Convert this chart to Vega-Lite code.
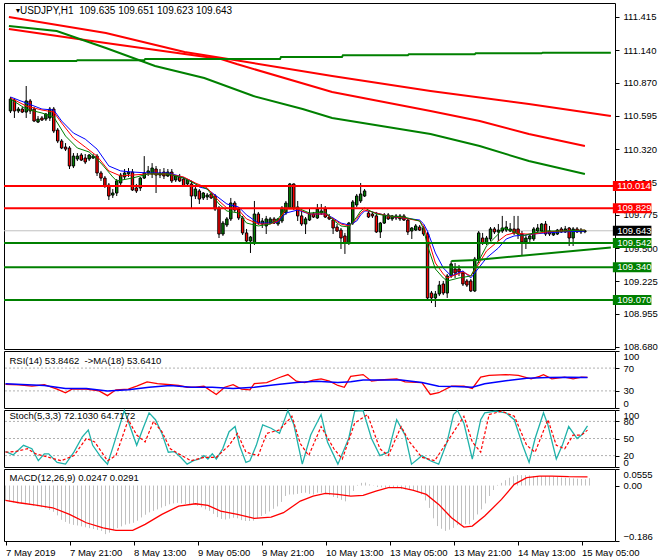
{
"$schema": "https://vega.github.io/schema/vega-lite/v6.json",
"padding": {"left": 2, "top": 2, "right": 0, "bottom": 0},
"background": "white",
"spacing": 2,
"bounds": "flush",
"config": {
 "view": {"stroke": "#000000", "strokeWidth": 1},
 "axis": {"labelFont": "Liberation Sans", "labelFontSize": 9.5, "labelColor": "#000000", "tickColor": "#000000", "domain": false, "grid": false, "title": null, "labelOverlap": false, "tickSize": 4, "labelPadding": 4},
 "text": {"font": "Liberation Sans", "fontSize": 9.5, "color": "#000000"}
},
"datasets": {
 "candles": [
{"i":0,"o":110.636,"h":110.752,"l":110.619,"c":110.735},
{"i":1,"o":110.727,"h":110.744,"l":110.578,"c":110.636},
{"i":2,"o":110.636,"h":110.669,"l":110.619,"c":110.652},
{"i":3,"o":110.652,"h":110.669,"l":110.619,"c":110.627},
{"i":4,"o":110.627,"h":110.843,"l":110.578,"c":110.719},
{"i":5,"o":110.719,"h":110.735,"l":110.611,"c":110.636},
{"i":6,"o":110.652,"h":110.669,"l":110.544,"c":110.553},
{"i":7,"o":110.544,"h":110.594,"l":110.536,"c":110.569},
{"i":8,"o":110.578,"h":110.594,"l":110.553,"c":110.561},
{"i":9,"o":110.569,"h":110.619,"l":110.553,"c":110.611},
{"i":10,"o":110.578,"h":110.669,"l":110.553,"c":110.652},
{"i":11,"o":110.652,"h":110.669,"l":110.453,"c":110.470},
{"i":12,"o":110.478,"h":110.495,"l":110.370,"c":110.387},
{"i":13,"o":110.387,"h":110.403,"l":110.320,"c":110.329},
{"i":14,"o":110.337,"h":110.370,"l":110.304,"c":110.320},
{"i":15,"o":110.329,"h":110.345,"l":110.155,"c":110.180},
{"i":16,"o":110.180,"h":110.287,"l":110.163,"c":110.262},
{"i":17,"o":110.238,"h":110.287,"l":110.221,"c":110.262},
{"i":18,"o":110.271,"h":110.287,"l":110.221,"c":110.229},
{"i":19,"o":110.246,"h":110.279,"l":110.196,"c":110.213},
{"i":20,"o":110.238,"h":110.279,"l":110.221,"c":110.271},
{"i":21,"o":110.246,"h":110.279,"l":110.238,"c":110.262},
{"i":22,"o":110.262,"h":110.279,"l":110.097,"c":110.122},
{"i":23,"o":110.122,"h":110.139,"l":110.056,"c":110.080},
{"i":24,"o":110.080,"h":110.097,"l":109.998,"c":110.014},
{"i":25,"o":110.022,"h":110.039,"l":109.898,"c":109.931},
{"i":26,"o":109.939,"h":109.989,"l":109.915,"c":109.956},
{"i":27,"o":109.956,"h":110.072,"l":109.931,"c":110.056},
{"i":28,"o":110.039,"h":110.122,"l":110.022,"c":110.105},
{"i":29,"o":110.089,"h":110.155,"l":110.072,"c":110.122},
{"i":30,"o":110.114,"h":110.163,"l":110.089,"c":110.130},
{"i":31,"o":110.130,"h":110.155,"l":109.973,"c":109.981},
{"i":32,"o":109.998,"h":110.031,"l":109.956,"c":109.973},
{"i":33,"o":109.998,"h":110.089,"l":109.973,"c":110.080},
{"i":34,"o":110.080,"h":110.262,"l":110.072,"c":110.122},
{"i":35,"o":110.122,"h":110.180,"l":110.097,"c":110.139},
{"i":36,"o":110.114,"h":110.204,"l":110.080,"c":110.163},
{"i":37,"o":110.155,"h":110.180,"l":109.956,"c":110.105},
{"i":38,"o":110.105,"h":110.155,"l":110.080,"c":110.122},
{"i":39,"o":110.130,"h":110.163,"l":110.072,"c":110.097},
{"i":40,"o":110.097,"h":110.155,"l":110.089,"c":110.130},
{"i":41,"o":110.130,"h":110.155,"l":110.039,"c":110.056},
{"i":42,"o":110.064,"h":110.105,"l":110.047,"c":110.097},
{"i":43,"o":110.089,"h":110.114,"l":110.047,"c":110.056},
{"i":44,"o":110.072,"h":110.089,"l":110.006,"c":110.014},
{"i":45,"o":110.031,"h":110.072,"l":110.014,"c":110.064},
{"i":46,"o":110.031,"h":110.056,"l":109.823,"c":109.931},
{"i":47,"o":109.931,"h":110.006,"l":109.906,"c":109.989},
{"i":48,"o":109.973,"h":109.989,"l":109.865,"c":109.906},
{"i":49,"o":109.915,"h":109.964,"l":109.898,"c":109.956},
{"i":50,"o":109.923,"h":109.956,"l":109.898,"c":109.939},
{"i":51,"o":109.948,"h":109.964,"l":109.906,"c":109.915},
{"i":52,"o":109.931,"h":109.948,"l":109.807,"c":109.823},
{"i":53,"o":109.832,"h":109.848,"l":109.583,"c":109.616},
{"i":54,"o":109.616,"h":109.724,"l":109.600,"c":109.707},
{"i":55,"o":109.691,"h":109.757,"l":109.674,"c":109.741},
{"i":56,"o":109.741,"h":109.915,"l":109.724,"c":109.873},
{"i":57,"o":109.873,"h":109.890,"l":109.799,"c":109.815},
{"i":58,"o":109.823,"h":109.840,"l":109.732,"c":109.749},
{"i":59,"o":109.749,"h":109.766,"l":109.608,"c":109.625},
{"i":60,"o":109.625,"h":109.658,"l":109.542,"c":109.558},
{"i":61,"o":109.558,"h":109.600,"l":109.459,"c":109.591},
{"i":62,"o":109.542,"h":109.890,"l":109.525,"c":109.782},
{"i":63,"o":109.782,"h":109.799,"l":109.691,"c":109.707},
{"i":64,"o":109.699,"h":109.749,"l":109.666,"c":109.724},
{"i":65,"o":109.683,"h":109.766,"l":109.616,"c":109.741},
{"i":66,"o":109.707,"h":109.757,"l":109.699,"c":109.741},
{"i":67,"o":109.741,"h":109.757,"l":109.699,"c":109.707},
{"i":68,"o":109.699,"h":109.749,"l":109.683,"c":109.741},
{"i":69,"o":109.724,"h":109.848,"l":109.707,"c":109.832},
{"i":70,"o":109.790,"h":109.890,"l":109.774,"c":109.873},
{"i":71,"o":109.832,"h":110.039,"l":109.823,"c":110.031},
{"i":72,"o":110.031,"h":110.035,"l":109.815,"c":109.832},
{"i":73,"o":109.840,"h":109.890,"l":109.724,"c":109.766},
{"i":74,"o":109.766,"h":109.807,"l":109.683,"c":109.699},
{"i":75,"o":109.699,"h":109.757,"l":109.616,"c":109.741},
{"i":76,"o":109.732,"h":109.823,"l":109.724,"c":109.782},
{"i":77,"o":109.782,"h":109.799,"l":109.749,"c":109.757},
{"i":78,"o":109.749,"h":109.865,"l":109.741,"c":109.823},
{"i":79,"o":109.790,"h":109.865,"l":109.774,"c":109.807},
{"i":80,"o":109.823,"h":109.848,"l":109.749,"c":109.757},
{"i":81,"o":109.757,"h":109.782,"l":109.732,"c":109.741},
{"i":82,"o":109.732,"h":109.749,"l":109.616,"c":109.666},
{"i":83,"o":109.674,"h":109.699,"l":109.633,"c":109.641},
{"i":84,"o":109.649,"h":109.666,"l":109.492,"c":109.583},
{"i":85,"o":109.600,"h":109.625,"l":109.451,"c":109.542},
{"i":86,"o":109.542,"h":109.716,"l":109.525,"c":109.707},
{"i":87,"o":109.707,"h":109.898,"l":109.691,"c":109.882},
{"i":88,"o":109.857,"h":109.948,"l":109.840,"c":109.931},
{"i":89,"o":109.890,"h":110.039,"l":109.873,"c":109.948},
{"i":90,"o":109.931,"h":109.989,"l":109.923,"c":109.973},
{"i":91,"o":109.790,"h":109.807,"l":109.749,"c":109.757},
{"i":92,"o":109.782,"h":109.799,"l":109.749,"c":109.766},
{"i":93,"o":109.766,"h":109.799,"l":109.625,"c":109.633},
{"i":94,"o":109.633,"h":109.716,"l":109.583,"c":109.707},
{"i":95,"o":109.707,"h":109.790,"l":109.699,"c":109.774},
{"i":96,"o":109.774,"h":109.790,"l":109.732,"c":109.741},
{"i":97,"o":109.741,"h":109.774,"l":109.724,"c":109.766},
{"i":98,"o":109.766,"h":109.782,"l":109.732,"c":109.749},
{"i":99,"o":109.741,"h":109.782,"l":109.724,"c":109.766},
{"i":100,"o":109.766,"h":109.782,"l":109.724,"c":109.732},
{"i":101,"o":109.732,"h":109.749,"l":109.608,"c":109.633},
{"i":102,"o":109.641,"h":109.674,"l":109.575,"c":109.666},
{"i":103,"o":109.649,"h":109.699,"l":109.641,"c":109.683},
{"i":104,"o":109.674,"h":109.691,"l":109.641,"c":109.649},
{"i":105,"o":109.666,"h":109.683,"l":109.600,"c":109.616},
{"i":106,"o":109.616,"h":109.633,"l":109.069,"c":109.086},
{"i":107,"o":109.127,"h":109.144,"l":109.044,"c":109.086},
{"i":108,"o":109.086,"h":109.144,"l":109.011,"c":109.119},
{"i":109,"o":109.119,"h":109.227,"l":109.102,"c":109.193},
{"i":110,"o":109.202,"h":109.227,"l":109.110,"c":109.127},
{"i":111,"o":109.127,"h":109.285,"l":109.086,"c":109.268},
{"i":112,"o":109.268,"h":109.393,"l":109.252,"c":109.368},
{"i":113,"o":109.326,"h":109.376,"l":109.252,"c":109.293},
{"i":114,"o":109.326,"h":109.359,"l":109.268,"c":109.301},
{"i":115,"o":109.293,"h":109.310,"l":109.185,"c":109.202},
{"i":116,"o":109.227,"h":109.243,"l":109.177,"c":109.193},
{"i":117,"o":109.227,"h":109.243,"l":109.135,"c":109.144},
{"i":118,"o":109.144,"h":109.426,"l":109.135,"c":109.409},
{"i":119,"o":109.409,"h":109.641,"l":109.376,"c":109.625},
{"i":120,"o":109.583,"h":109.625,"l":109.525,"c":109.542},
{"i":121,"o":109.542,"h":109.600,"l":109.525,"c":109.583},
{"i":122,"o":109.575,"h":109.674,"l":109.558,"c":109.658},
{"i":123,"o":109.658,"h":109.674,"l":109.616,"c":109.633},
{"i":124,"o":109.633,"h":109.699,"l":109.558,"c":109.649},
{"i":125,"o":109.641,"h":109.766,"l":109.625,"c":109.666},
{"i":126,"o":109.649,"h":109.724,"l":109.633,"c":109.674},
{"i":127,"o":109.641,"h":109.707,"l":109.633,"c":109.658},
{"i":128,"o":109.658,"h":109.766,"l":109.608,"c":109.625},
{"i":129,"o":109.658,"h":109.766,"l":109.575,"c":109.616},
{"i":130,"o":109.616,"h":109.641,"l":109.434,"c":109.550},
{"i":131,"o":109.550,"h":109.608,"l":109.492,"c":109.583},
{"i":132,"o":109.575,"h":109.616,"l":109.550,"c":109.600},
{"i":133,"o":109.575,"h":109.674,"l":109.558,"c":109.658},
{"i":134,"o":109.641,"h":109.699,"l":109.625,"c":109.666},
{"i":135,"o":109.641,"h":109.707,"l":109.633,"c":109.699},
{"i":136,"o":109.699,"h":109.724,"l":109.600,"c":109.616},
{"i":137,"o":109.641,"h":109.683,"l":109.600,"c":109.616},
{"i":138,"o":109.608,"h":109.641,"l":109.600,"c":109.625},
{"i":139,"o":109.616,"h":109.658,"l":109.608,"c":109.649},
{"i":140,"o":109.658,"h":109.674,"l":109.625,"c":109.633},
{"i":141,"o":109.633,"h":109.683,"l":109.625,"c":109.658},
{"i":142,"o":109.666,"h":109.674,"l":109.517,"c":109.583},
{"i":143,"o":109.583,"h":109.674,"l":109.517,"c":109.658},
{"i":144,"o":109.658,"h":109.674,"l":109.625,"c":109.633},
{"i":145,"o":109.633,"h":109.666,"l":109.616,"c":109.649},
{"i":146,"o":109.635,"h":109.651,"l":109.623,"c":109.643}
 ],
 "shortma": [
{"s":"b","i":0,"p":110.752},{"s":"b","i":4,"p":110.702},{"s":"b","i":8,"p":110.652},{"s":"b","i":11,"p":110.644},{"s":"b","i":13,"p":110.553},{"s":"b","i":16,"p":110.453},{"s":"b","i":19,"p":110.403},{"s":"b","i":22,"p":110.320},{"s":"b","i":25,"p":110.180},{"s":"b","i":28,"p":110.139},{"s":"b","i":31,"p":110.130},{"s":"b","i":35,"p":110.122},{"s":"b","i":40,"p":110.122},{"s":"b","i":43,"p":110.097},{"s":"b","i":46,"p":110.056},{"s":"b","i":48,"p":110.006},{"s":"b","i":50,"p":109.989},{"s":"b","i":53,"p":109.915},{"s":"b","i":55,"p":109.865},{"s":"b","i":58,"p":109.840},{"s":"b","i":60,"p":109.774},{"s":"b","i":63,"p":109.707},{"s":"b","i":66,"p":109.707},{"s":"b","i":68,"p":109.716},{"s":"b","i":70,"p":109.790},{"s":"b","i":73,"p":109.815},{"s":"b","i":76,"p":109.782},{"s":"b","i":80,"p":109.782},{"s":"b","i":82,"p":109.749},{"s":"b","i":84,"p":109.707},{"s":"b","i":86,"p":109.691},{"s":"b","i":88,"p":109.724},{"s":"b","i":89,"p":109.774},{"s":"b","i":90,"p":109.807},{"s":"b","i":91,"p":109.807},{"s":"b","i":93,"p":109.790},{"s":"b","i":96,"p":109.766},{"s":"b","i":100,"p":109.749},{"s":"b","i":104,"p":109.732},{"s":"b","i":105,"p":109.700},{"s":"b","i":106,"p":109.640},{"s":"b","i":107,"p":109.550},{"s":"b","i":108,"p":109.459},{"s":"b","i":110,"p":109.335},{"s":"b","i":112,"p":109.268},{"s":"b","i":115,"p":109.310},{"s":"b","i":117,"p":109.252},{"s":"b","i":119,"p":109.335},{"s":"b","i":121,"p":109.418},{"s":"b","i":124,"p":109.500},{"s":"b","i":126,"p":109.575},{"s":"b","i":128,"p":109.600},{"s":"b","i":131,"p":109.608},{"s":"b","i":133,"p":109.616},{"s":"b","i":136,"p":109.625},{"s":"b","i":140,"p":109.633},{"s":"b","i":146,"p":109.641},
{"s":"r","i":0,"p":110.744},{"s":"r","i":4,"p":110.677},{"s":"r","i":8,"p":110.644},{"s":"r","i":11,"p":110.627},{"s":"r","i":13,"p":110.536},{"s":"r","i":16,"p":110.412},{"s":"r","i":19,"p":110.337},{"s":"r","i":22,"p":110.262},{"s":"r","i":25,"p":110.139},{"s":"r","i":28,"p":110.097},{"s":"r","i":31,"p":110.105},{"s":"r","i":35,"p":110.114},{"s":"r","i":40,"p":110.114},{"s":"r","i":44,"p":110.089},{"s":"r","i":47,"p":110.039},{"s":"r","i":50,"p":109.998},{"s":"r","i":53,"p":109.890},{"s":"r","i":55,"p":109.832},{"s":"r","i":58,"p":109.815},{"s":"r","i":60,"p":109.741},{"s":"r","i":63,"p":109.699},{"s":"r","i":66,"p":109.699},{"s":"r","i":68,"p":109.724},{"s":"r","i":70,"p":109.823},{"s":"r","i":73,"p":109.823},{"s":"r","i":76,"p":109.782},{"s":"r","i":80,"p":109.782},{"s":"r","i":82,"p":109.741},{"s":"r","i":84,"p":109.699},{"s":"r","i":86,"p":109.683},{"s":"r","i":88,"p":109.741},{"s":"r","i":89,"p":109.790},{"s":"r","i":90,"p":109.815},{"s":"r","i":91,"p":109.807},{"s":"r","i":93,"p":109.790},{"s":"r","i":96,"p":109.766},{"s":"r","i":100,"p":109.749},{"s":"r","i":104,"p":109.724},{"s":"r","i":105,"p":109.680},{"s":"r","i":106,"p":109.590},{"s":"r","i":108,"p":109.376},{"s":"r","i":110,"p":109.285},{"s":"r","i":111,"p":109.252},{"s":"r","i":115,"p":109.301},{"s":"r","i":117,"p":109.268},{"s":"r","i":119,"p":109.368},{"s":"r","i":121,"p":109.476},{"s":"r","i":124,"p":109.558},{"s":"r","i":126,"p":109.608},{"s":"r","i":128,"p":109.625},{"s":"r","i":131,"p":109.616},{"s":"r","i":133,"p":109.616},{"s":"r","i":136,"p":109.633},{"s":"r","i":140,"p":109.641},{"s":"r","i":146,"p":109.649},
{"s":"g","i":0,"p":110.735},{"s":"g","i":4,"p":110.652},{"s":"g","i":8,"p":110.619},{"s":"g","i":11,"p":110.586},{"s":"g","i":14,"p":110.428},{"s":"g","i":17,"p":110.329},{"s":"g","i":20,"p":110.296},{"s":"g","i":23,"p":110.204},{"s":"g","i":26,"p":110.089},{"s":"g","i":27,"p":110.056},{"s":"g","i":31,"p":110.080},{"s":"g","i":35,"p":110.114},{"s":"g","i":40,"p":110.114},{"s":"g","i":44,"p":110.080},{"s":"g","i":47,"p":110.031},{"s":"g","i":50,"p":109.989},{"s":"g","i":53,"p":109.865},{"s":"g","i":55,"p":109.807},{"s":"g","i":58,"p":109.790},{"s":"g","i":60,"p":109.707},{"s":"g","i":63,"p":109.683},{"s":"g","i":66,"p":109.699},{"s":"g","i":68,"p":109.741},{"s":"g","i":70,"p":109.832},{"s":"g","i":73,"p":109.832},{"s":"g","i":76,"p":109.790},{"s":"g","i":80,"p":109.799},{"s":"g","i":82,"p":109.732},{"s":"g","i":84,"p":109.683},{"s":"g","i":86,"p":109.674},{"s":"g","i":88,"p":109.757},{"s":"g","i":89,"p":109.807},{"s":"g","i":90,"p":109.832},{"s":"g","i":91,"p":109.815},{"s":"g","i":93,"p":109.782},{"s":"g","i":96,"p":109.766},{"s":"g","i":100,"p":109.757},{"s":"g","i":104,"p":109.724},{"s":"g","i":105,"p":109.658},{"s":"g","i":106,"p":109.517},{"s":"g","i":108,"p":109.326},{"s":"g","i":110,"p":109.252},{"s":"g","i":111,"p":109.227},{"s":"g","i":114,"p":109.252},{"s":"g","i":117,"p":109.268},{"s":"g","i":119,"p":109.393},{"s":"g","i":121,"p":109.517},{"s":"g","i":124,"p":109.616},{"s":"g","i":125,"p":109.666},{"s":"g","i":127,"p":109.649},{"s":"g","i":130,"p":109.600},{"s":"g","i":133,"p":109.625},{"s":"g","i":136,"p":109.641},{"s":"g","i":140,"p":109.641},{"s":"g","i":146,"p":109.649}
 ],
 "longma": [
{"s":"ra","i":-0.4,"p":111.415},{"s":"ra","i":24.25,"p":111.282},{"s":"ra","i":44.25,"p":111.125},{"s":"ra","i":57.75,"p":111.054},{"s":"ra","i":81.75,"p":110.926},{"s":"ra","i":106.75,"p":110.802},{"s":"ra","i":131.75,"p":110.694},{"s":"ra","i":152.6,"p":110.594},
{"s":"rb","i":-0.4,"p":111.315},{"s":"rb","i":24.25,"p":111.199},{"s":"rb","i":44.25,"p":111.108},{"s":"rb","i":53.5,"p":111.067},{"s":"rb","i":57.5,"p":111.025},{"s":"rb","i":81.75,"p":110.793},{"s":"rb","i":106.75,"p":110.636},{"s":"rb","i":119.25,"p":110.553},{"s":"rb","i":131.75,"p":110.445},{"s":"rb","i":146,"p":110.345},
{"s":"ga","i":-0.4,"p":111.340},{"s":"ga","i":11.75,"p":111.299},{"s":"ga","i":24.25,"p":111.158},{"s":"ga","i":36.75,"p":111.009},{"s":"ga","i":49.25,"p":110.909},{"s":"ga","i":61.75,"p":110.760},{"s":"ga","i":74.25,"p":110.652},{"s":"ga","i":81.75,"p":110.578},{"s":"ga","i":106.75,"p":110.445},{"s":"ga","i":119.25,"p":110.345},{"s":"ga","i":131.75,"p":110.221},{"s":"ga","i":146,"p":110.114},
{"s":"gb","i":-0.4,"p":111.050},{"s":"gb","i":16.75,"p":111.050},{"s":"gb","i":17,"p":111.056},{"s":"gb","i":34,"p":111.056},{"s":"gb","i":34.25,"p":111.067},{"s":"gb","i":68.5,"p":111.067},{"s":"gb","i":68.75,"p":111.083},{"s":"gb","i":84.25,"p":111.083},{"s":"gb","i":84.5,"p":111.098},{"s":"gb","i":101,"p":111.098},{"s":"gb","i":101.25,"p":111.106},{"s":"gb","i":118,"p":111.106},{"s":"gb","i":118.25,"p":111.114},{"s":"gb","i":135,"p":111.114},{"s":"gb","i":135.25,"p":111.119},{"s":"gb","i":152.6,"p":111.119}
 ],
 "levels": [
{"p":110.014,"c":"#ff0000","t":"110.014"},
{"p":109.829,"c":"#ff0000","t":"109.829"},
{"p":109.542,"c":"#008000","t":"109.542"},
{"p":109.340,"c":"#008000","t":"109.340"},
{"p":109.070,"c":"#008000","t":"109.070"}
 ],
 "tags": [
{"p":110.014,"c":"#ff0000","t":"110.014"},
{"p":109.829,"c":"#ff0000","t":"109.829"},
{"p":109.643,"c":"#000000","t":"109.643"},
{"p":109.542,"c":"#008000","t":"109.542"},
{"p":109.340,"c":"#008000","t":"109.340"},
{"p":109.070,"c":"#008000","t":"109.070"}
 ],
 "trend": [{"i":112.05,"p":109.393},{"i":118.4,"p":109.401},{"i":152.6,"p":109.505}],
 "rsi": [
{"i":0,"v":41.4},{"i":3.4,"v":40.8},{"i":6.6,"v":38.3},{"i":9.7,"v":40.8},{"i":12.9,"v":33.2},{"i":15,"v":26.8},{"i":16.6,"v":33.2},{"i":20.2,"v":33.2},{"i":23.4,"v":30},{"i":25.5,"v":21.7},{"i":27.6,"v":31.9},{"i":30.7,"v":33.2},{"i":32.8,"v":38.3},{"i":35.4,"v":45.9},{"i":38,"v":42.7},{"i":41.2,"v":40.8},{"i":43.3,"v":39.5},{"i":45.4,"v":36.4},{"i":47.5,"v":36.4},{"i":49.6,"v":38.3},{"i":52.7,"v":23.7},{"i":54.8,"v":36.4},{"i":56.9,"v":40.8},{"i":59,"v":33.2},{"i":61.1,"v":31.9},{"i":62.2,"v":42.7},{"i":65.3,"v":44.6},{"i":68.5,"v":53.5},{"i":70.6,"v":58.6},{"i":72.7,"v":47.1},{"i":74.8,"v":44.6},{"i":76.9,"v":49.1},{"i":78.9,"v":51},{"i":81,"v":47.1},{"i":83.1,"v":39.5},{"i":84.7,"v":36.4},{"i":86.3,"v":55.4},{"i":89.4,"v":58.6},{"i":91.5,"v":47.1},{"i":93.6,"v":49.1},{"i":97.8,"v":51},{"i":99.9,"v":45.9},{"i":104.1,"v":44.6},{"i":106.2,"v":23.7},{"i":108.3,"v":26.8},{"i":111.5,"v":38.3},{"i":114.6,"v":38.3},{"i":116.7,"v":34.4},{"i":118.8,"v":54.1},{"i":120.9,"v":57.3},{"i":125.1,"v":58.6},{"i":128.2,"v":57.3},{"i":131.4,"v":51},{"i":133.5,"v":55.4},{"i":134.5,"v":58.6},{"i":136.6,"v":51},{"i":139.8,"v":54.1},{"i":141.9,"v":51},{"i":144,"v":54.1},{"i":145.5,"v":53.85}
 ],
 "rsima": [
{"i":0,"v":42.7},{"i":5.5,"v":40.8},{"i":9.7,"v":39.5},{"i":15,"v":34.4},{"i":20.2,"v":34.4},{"i":25.5,"v":30},{"i":30.7,"v":31.9},{"i":35.9,"v":36.4},{"i":41.2,"v":39.5},{"i":46.4,"v":36.4},{"i":51.7,"v":36.4},{"i":56.9,"v":34.4},{"i":62.2,"v":36.4},{"i":67.4,"v":40.8},{"i":72.7,"v":44.6},{"i":77.9,"v":47.1},{"i":83.1,"v":44.6},{"i":86.3,"v":45.9},{"i":89.4,"v":49.1},{"i":93.6,"v":49.1},{"i":98.9,"v":49.1},{"i":104.1,"v":44.6},{"i":108.3,"v":38.3},{"i":112.5,"v":37.6},{"i":116.7,"v":36.4},{"i":119.8,"v":42.7},{"i":125.1,"v":47.8},{"i":130.3,"v":52.2},{"i":135.6,"v":53.5},{"i":140.8,"v":54.1},{"i":145.5,"v":53.64}
 ],
 "stk": [
{"i":0,"v":27.2},{"i":1.9,"v":21.2},{"i":4.5,"v":38},{"i":6.6,"v":32},{"i":8.2,"v":11},{"i":9.7,"v":23},{"i":10.8,"v":23},{"i":12.9,"v":8},{"i":15,"v":5},{"i":17.1,"v":26},{"i":19.2,"v":53},{"i":20.7,"v":65},{"i":21.8,"v":38},{"i":23.9,"v":17},{"i":25.5,"v":5},{"i":27,"v":38},{"i":29.7,"v":99},{"i":30.7,"v":80},{"i":32.8,"v":38},{"i":34.4,"v":68},{"i":35.9,"v":95},{"i":37.5,"v":83},{"i":39.1,"v":59},{"i":40.7,"v":26},{"i":42.2,"v":27},{"i":43.8,"v":17},{"i":45.4,"v":5},{"i":47,"v":11},{"i":48.5,"v":14},{"i":49.6,"v":20},{"i":50.6,"v":14},{"i":51.7,"v":23},{"i":52.7,"v":14},{"i":54.3,"v":32},{"i":55.9,"v":62},{"i":57.4,"v":71},{"i":58.5,"v":38},{"i":60.1,"v":8},{"i":61.1,"v":11},{"i":62.7,"v":38},{"i":64.3,"v":74},{"i":66.4,"v":68},{"i":68.5,"v":59},{"i":70.6,"v":99},{"i":72.1,"v":74},{"i":74.2,"v":5},{"i":76.3,"v":56},{"i":78.9,"v":92},{"i":80.5,"v":44},{"i":83.1,"v":5},{"i":85.8,"v":50},{"i":87.3,"v":98},{"i":89.4,"v":99},{"i":91.5,"v":50},{"i":93.6,"v":20},{"i":95.7,"v":26},{"i":97.8,"v":83},{"i":99.9,"v":56},{"i":101.5,"v":5},{"i":103.1,"v":14},{"i":104.1,"v":20},{"i":106.2,"v":11},{"i":108.3,"v":5},{"i":110.4,"v":44},{"i":112,"v":92},{"i":113,"v":99},{"i":114.6,"v":77},{"i":116.7,"v":14},{"i":118.8,"v":83},{"i":119.8,"v":95},{"i":122.5,"v":98},{"i":125.1,"v":95},{"i":127.2,"v":83},{"i":129.3,"v":38},{"i":130.9,"v":8},{"i":132.4,"v":50},{"i":134.5,"v":95},{"i":135.6,"v":74},{"i":137.7,"v":14},{"i":139.2,"v":38},{"i":140.8,"v":71},{"i":142.9,"v":50},{"i":144,"v":56},{"i":145.5,"v":72.1}
 ],
 "std": [
{"i":0,"v":26},{"i":2.4,"v":27},{"i":5.5,"v":32},{"i":7.6,"v":23},{"i":10.8,"v":17},{"i":13.9,"v":11},{"i":17.1,"v":20},{"i":20.2,"v":50},{"i":22.3,"v":44},{"i":25.5,"v":11},{"i":27.6,"v":20},{"i":30.7,"v":83},{"i":32.8,"v":56},{"i":34.9,"v":44},{"i":37,"v":80},{"i":39.1,"v":62},{"i":41.2,"v":32},{"i":43.3,"v":23},{"i":46.4,"v":11},{"i":49.6,"v":17},{"i":52.7,"v":17},{"i":55.9,"v":38},{"i":58,"v":59},{"i":60.1,"v":26},{"i":63.2,"v":20},{"i":65.3,"v":59},{"i":68.5,"v":65},{"i":71.6,"v":89},{"i":73.7,"v":41},{"i":75.8,"v":20},{"i":78.9,"v":71},{"i":82.1,"v":32},{"i":84.2,"v":14},{"i":87.3,"v":77},{"i":90.5,"v":92},{"i":93.6,"v":32},{"i":95.7,"v":20},{"i":98.9,"v":71},{"i":101,"v":44},{"i":104.1,"v":17},{"i":107.3,"v":11},{"i":111.5,"v":56},{"i":114.6,"v":89},{"i":116.7,"v":44},{"i":118.8,"v":26},{"i":120.9,"v":92},{"i":124,"v":98},{"i":127.2,"v":89},{"i":130.3,"v":38},{"i":132.4,"v":26},{"i":135.6,"v":83},{"i":137.7,"v":38},{"i":139.8,"v":32},{"i":141.9,"v":56},{"i":144,"v":56},{"i":145.5,"v":64.7}
 ],
 "hist": [
{"i":0,"v":-0.052},{"i":1,"v":-0.055},{"i":2,"v":-0.057},{"i":3,"v":-0.060},{"i":4,"v":-0.061},{"i":5,"v":-0.063},{"i":6,"v":-0.065},{"i":7,"v":-0.068},{"i":8,"v":-0.070},{"i":9,"v":-0.073},{"i":10,"v":-0.076},{"i":11,"v":-0.082},{"i":12,"v":-0.088},{"i":13,"v":-0.100},{"i":14,"v":-0.115},{"i":15,"v":-0.122},{"i":16,"v":-0.128},{"i":17,"v":-0.132},{"i":18,"v":-0.134},{"i":19,"v":-0.137},{"i":20,"v":-0.140},{"i":21,"v":-0.143},{"i":22,"v":-0.146},{"i":23,"v":-0.149},{"i":24,"v":-0.152},{"i":25,"v":-0.163},{"i":26,"v":-0.158},{"i":27,"v":-0.150},{"i":28,"v":-0.143},{"i":29,"v":-0.137},{"i":30,"v":-0.131},{"i":31,"v":-0.128},{"i":32,"v":-0.125},{"i":33,"v":-0.118},{"i":34,"v":-0.107},{"i":35,"v":-0.098},{"i":36,"v":-0.090},{"i":37,"v":-0.085},{"i":38,"v":-0.080},{"i":39,"v":-0.074},{"i":40,"v":-0.069},{"i":41,"v":-0.063},{"i":42,"v":-0.060},{"i":43,"v":-0.058},{"i":44,"v":-0.060},{"i":45,"v":-0.062},{"i":46,"v":-0.063},{"i":47,"v":-0.063},{"i":48,"v":-0.068},{"i":49,"v":-0.073},{"i":50,"v":-0.080},{"i":51,"v":-0.085},{"i":52,"v":-0.095},{"i":53,"v":-0.106},{"i":54,"v":-0.112},{"i":55,"v":-0.114},{"i":56,"v":-0.111},{"i":57,"v":-0.108},{"i":58,"v":-0.110},{"i":59,"v":-0.116},{"i":60,"v":-0.119},{"i":61,"v":-0.119},{"i":62,"v":-0.118},{"i":63,"v":-0.110},{"i":64,"v":-0.102},{"i":65,"v":-0.095},{"i":66,"v":-0.087},{"i":67,"v":-0.078},{"i":68,"v":-0.070},{"i":69,"v":-0.055},{"i":70,"v":-0.035},{"i":71,"v":-0.030},{"i":72,"v":-0.030},{"i":73,"v":-0.028},{"i":74,"v":-0.025},{"i":75,"v":-0.024},{"i":76,"v":-0.028},{"i":77,"v":-0.030},{"i":78,"v":-0.024},{"i":79,"v":-0.024},{"i":80,"v":-0.028},{"i":81,"v":-0.032},{"i":82,"v":-0.038},{"i":83,"v":-0.042},{"i":84,"v":-0.048},{"i":85,"v":-0.053},{"i":86,"v":-0.035},{"i":87,"v":-0.018},{"i":88,"v":0.002},{"i":89,"v":0.009},{"i":90,"v":0.010},{"i":91,"v":0.004},{"i":92,"v":0.001},{"i":93,"v":-0.005},{"i":94,"v":-0.006},{"i":95,"v":-0.007},{"i":96,"v":-0.007},{"i":97,"v":-0.008},{"i":98,"v":-0.008},{"i":99,"v":-0.012},{"i":100,"v":-0.013},{"i":101,"v":-0.015},{"i":102,"v":-0.018},{"i":103,"v":-0.022},{"i":104,"v":-0.030},{"i":105,"v":-0.050},{"i":106,"v":-0.075},{"i":107,"v":-0.110},{"i":108,"v":-0.136},{"i":109,"v":-0.145},{"i":110,"v":-0.152},{"i":111,"v":-0.148},{"i":112,"v":-0.142},{"i":113,"v":-0.133},{"i":114,"v":-0.130},{"i":115,"v":-0.130},{"i":116,"v":-0.130},{"i":117,"v":-0.115},{"i":118,"v":-0.097},{"i":119,"v":-0.080},{"i":120,"v":-0.060},{"i":121,"v":-0.035},{"i":122,"v":-0.015},{"i":123,"v":0.002},{"i":124,"v":0.009},{"i":125,"v":0.018},{"i":126,"v":0.026},{"i":127,"v":0.031},{"i":128,"v":0.035},{"i":129,"v":0.035},{"i":130,"v":0.035},{"i":131,"v":0.034},{"i":132,"v":0.032},{"i":133,"v":0.032},{"i":134,"v":0.032},{"i":135,"v":0.032},{"i":136,"v":0.032},{"i":137,"v":0.030},{"i":138,"v":0.029},{"i":139,"v":0.027},{"i":140,"v":0.026},{"i":141,"v":0.025},{"i":142,"v":0.024},{"i":143,"v":0.023},{"i":144,"v":0.022},{"i":145,"v":0.021},{"i":146,"v":0.0247}
 ],
 "sig": [
{"i":0,"v":-0.0498},{"i":3.4,"v":-0.0577},{"i":7.6,"v":-0.0655},{"i":11.8,"v":-0.0745},{"i":16,"v":-0.0968},{"i":20.2,"v":-0.1248},{"i":24.4,"v":-0.1416},{"i":27.6,"v":-0.1506},{"i":31.8,"v":-0.1506},{"i":34.9,"v":-0.1304},{"i":39.1,"v":-0.0968},{"i":43.3,"v":-0.0689},{"i":47.5,"v":-0.061},{"i":50.6,"v":-0.0666},{"i":53.8,"v":-0.0857},{"i":58,"v":-0.0968},{"i":62.2,"v":-0.1103},{"i":66.4,"v":-0.1058},{"i":69.5,"v":-0.0912},{"i":73.7,"v":-0.0521},{"i":76.9,"v":-0.0353},{"i":80,"v":-0.0263},{"i":83.1,"v":-0.0297},{"i":86.3,"v":-0.0353},{"i":89.4,"v":-0.0331},{"i":92.6,"v":-0.0185},{"i":95.7,"v":-0.0073},{"i":98.9,"v":-0.0073},{"i":102,"v":-0.0163},{"i":105.2,"v":-0.0297},{"i":108.3,"v":-0.0633},{"i":111.5,"v":-0.108},{"i":114.6,"v":-0.1394},{"i":116.7,"v":-0.136},{"i":119.8,"v":-0.1024},{"i":124,"v":-0.0465},{"i":127.2,"v":0.0039},{"i":130.3,"v":0.0263},{"i":133.5,"v":0.0318},{"i":136.6,"v":0.0318},{"i":140.8,"v":0.0296},{"i":145.5,"v":0.0291}
 ]
},
"vconcat": [
 {
  "width": 611, "height": 346,
  "resolve": {"axis": {"x": "independent", "y": "independent"}},
  "layer": [
   {"data": {"name": "longma"}, "mark": {"type": "line", "strokeWidth": 2, "clip": true},
    "encoding": {
     "x": {"field": "i", "type": "quantitative", "scale": {"domain": [-0.375, 152.375], "nice": false, "zero": false}, "axis": null},
     "y": {"field": "p", "type": "quantitative", "scale": {"domain": [108.663, 111.531], "nice": false, "zero": false}, "axis": null},
     "detail": {"field": "s"},
     "color": {"field": "s", "type": "nominal", "scale": {"domain": ["ra", "rb", "ga", "gb"], "range": ["#ff0000", "#ff0000", "#008000", "#008000"]}, "legend": null}
    }},
   {"data": {"values": [{"p": 109.643}]}, "mark": {"type": "rule", "color": "#c0c0c0", "strokeWidth": 1},
    "encoding": {"y": {"field": "p", "type": "quantitative", "scale": {"domain": [108.663, 111.531], "nice": false, "zero": false}, "axis": null}}},
   {"data": {"name": "candles"}, "mark": {"type": "rule", "color": "#000000", "strokeWidth": 1},
    "encoding": {
     "x": {"field": "i", "type": "quantitative", "scale": {"domain": [-0.375, 152.375], "nice": false, "zero": false}, "axis": null},
     "y": {"field": "l", "type": "quantitative", "scale": {"domain": [108.663, 111.531], "nice": false, "zero": false},
       "axis": {"orient": "right", "values": [108.68, 108.955, 109.225, 109.5, 109.775, 110.045, 110.32, 110.595, 110.87, 111.14, 111.415], "format": ".3f"}},
     "y2": {"field": "h"}
    }},
   {"data": {"name": "candles"}, "mark": {"type": "bar", "size": 2.4, "stroke": "#000000", "strokeWidth": 1},
    "encoding": {
     "x": {"field": "i", "type": "quantitative", "scale": {"domain": [-0.375, 152.375], "nice": false, "zero": false}, "axis": null},
     "y": {"field": "o", "type": "quantitative", "scale": {"domain": [108.663, 111.531], "nice": false, "zero": false}, "axis": null},
     "y2": {"field": "c"},
     "fill": {"condition": {"test": "datum.c < datum.o", "value": "#ff0000"}, "value": "#008000"}
    }},
   {"data": {"name": "shortma"}, "mark": {"type": "line", "strokeWidth": 1},
    "encoding": {
     "x": {"field": "i", "type": "quantitative", "scale": {"domain": [-0.375, 152.375], "nice": false, "zero": false}, "axis": null},
     "y": {"field": "p", "type": "quantitative", "scale": {"domain": [108.663, 111.531], "nice": false, "zero": false}, "axis": null},
     "stroke": {"field": "s", "type": "nominal", "scale": {"domain": ["b", "r", "g"], "range": ["#0000ff", "#ff0000", "#008000"]}, "legend": null}
    }},
   {"data": {"name": "levels"}, "mark": {"type": "rule", "strokeWidth": 2},
    "encoding": {
     "y": {"field": "p", "type": "quantitative", "scale": {"domain": [108.663, 111.531], "nice": false, "zero": false}, "axis": null},
     "color": {"field": "c", "type": "nominal", "scale": null}
    }},
   {"data": {"name": "trend"}, "mark": {"type": "line", "strokeWidth": 2, "color": "#008000", "clip": true},
    "encoding": {
     "x": {"field": "i", "type": "quantitative", "scale": {"domain": [-0.375, 152.375], "nice": false, "zero": false}, "axis": null},
     "y": {"field": "p", "type": "quantitative", "scale": {"domain": [108.663, 111.531], "nice": false, "zero": false}, "axis": null}
    }},
   {"data": {"name": "tags"}, "mark": {"type": "rule", "strokeWidth": 10, "strokeCap": "butt", "clip": false},
    "encoding": {
     "x": {"datum": 153.1, "type": "quantitative", "scale": {"domain": [-0.375, 152.375], "nice": false, "zero": false}, "axis": null},
     "x2": {"datum": 162.9},
     "y": {"field": "p", "type": "quantitative", "scale": {"domain": [108.663, 111.531], "nice": false, "zero": false}, "axis": null},
     "color": {"field": "c", "type": "nominal", "scale": null}
    }},
   {"data": {"name": "tags"}, "mark": {"type": "text", "align": "left", "baseline": "middle", "color": "#ffffff", "clip": false},
    "encoding": {
     "x": {"datum": 154.2, "type": "quantitative", "scale": {"domain": [-0.375, 152.375], "nice": false, "zero": false}, "axis": null},
     "y": {"field": "p", "type": "quantitative", "scale": {"domain": [108.663, 111.531], "nice": false, "zero": false}, "axis": null},
     "text": {"field": "t"}
    }},
   {"data": {"values": [{"i": 1, "p": 111.466, "t": "▼", "z": 7}, {"i": 2.4, "p": 111.465, "t": "USDJPY,H1\u00a0 109.635 109.651 109.623 109.643", "z": 10}]},
    "mark": {"type": "text", "align": "left", "baseline": "middle"},
    "encoding": {
     "x": {"field": "i", "type": "quantitative", "scale": {"domain": [-0.375, 152.375], "nice": false, "zero": false}, "axis": null},
     "y": {"field": "p", "type": "quantitative", "scale": {"domain": [108.663, 111.531], "nice": false, "zero": false}, "axis": null},
     "text": {"field": "t"},
     "size": {"field": "z", "type": "quantitative", "scale": null}
    }}
  ]
 },
 {
  "width": 611, "height": 57,
  "resolve": {"axis": {"x": "independent", "y": "independent"}},
  "layer": [
   {"data": {"values": [{"v": 70}, {"v": 30}]}, "mark": {"type": "rule", "color": "#b0b0b0", "strokeDash": [2, 2], "strokeWidth": 1},
    "encoding": {"y": {"field": "v", "type": "quantitative", "scale": {"domain": [0, 100], "nice": false},
      "axis": {"orient": "right", "values": [0, 30, 70, 100], "labelFlush": true}}}},
   {"data": {"name": "rsi"}, "mark": {"type": "line", "color": "#ff0000", "strokeWidth": 1.3},
    "encoding": {
     "x": {"field": "i", "type": "quantitative", "scale": {"domain": [-0.375, 152.375], "nice": false, "zero": false}, "axis": null},
     "y": {"field": "v", "type": "quantitative", "scale": {"domain": [0, 100], "nice": false}, "axis": null}
    }},
   {"data": {"name": "rsima"}, "mark": {"type": "line", "color": "#0000ff", "strokeWidth": 1.5},
    "encoding": {
     "x": {"field": "i", "type": "quantitative", "scale": {"domain": [-0.375, 152.375], "nice": false, "zero": false}, "axis": null},
     "y": {"field": "v", "type": "quantitative", "scale": {"domain": [0, 100], "nice": false}, "axis": null}
    }},
   {"data": {"values": [{"i": 1, "v": 83, "t": "RSI(14) 53.8462\u00a0 ->MA(18) 53.6410"}]}, "mark": {"type": "text", "align": "left", "baseline": "middle"},
    "encoding": {
     "x": {"field": "i", "type": "quantitative", "scale": {"domain": [-0.375, 152.375], "nice": false, "zero": false}, "axis": null},
     "y": {"field": "v", "type": "quantitative", "scale": {"domain": [0, 100], "nice": false}, "axis": null},
     "text": {"field": "t"}
    }}
  ]
 },
 {
  "width": 611, "height": 57,
  "resolve": {"axis": {"x": "independent", "y": "independent"}},
  "layer": [
   {"data": {"values": [{"v": 80}, {"v": 50}, {"v": 20}]}, "mark": {"type": "rule", "color": "#b0b0b0", "strokeDash": [2, 2], "strokeWidth": 1},
    "encoding": {"y": {"field": "v", "type": "quantitative", "scale": {"domain": [0, 100], "nice": false},
      "axis": {"orient": "right", "values": [0, 20, 50, 80, 100], "labelFlush": true}}}},
   {"data": {"name": "stk"}, "mark": {"type": "line", "color": "#20b2aa", "strokeWidth": 1.3},
    "encoding": {
     "x": {"field": "i", "type": "quantitative", "scale": {"domain": [-0.375, 152.375], "nice": false, "zero": false}, "axis": null},
     "y": {"field": "v", "type": "quantitative", "scale": {"domain": [0, 100], "nice": false}, "axis": null}
    }},
   {"data": {"name": "std"}, "mark": {"type": "line", "color": "#ff0000", "strokeWidth": 1.2, "strokeDash": [3, 2]},
    "encoding": {
     "x": {"field": "i", "type": "quantitative", "scale": {"domain": [-0.375, 152.375], "nice": false, "zero": false}, "axis": null},
     "y": {"field": "v", "type": "quantitative", "scale": {"domain": [0, 100], "nice": false}, "axis": null}
    }},
   {"data": {"values": [{"i": 1, "v": 90, "t": "Stoch(5,3,3) 72.1030 64.7172"}]}, "mark": {"type": "text", "align": "left", "baseline": "middle"},
    "encoding": {
     "x": {"field": "i", "type": "quantitative", "scale": {"domain": [-0.375, 152.375], "nice": false, "zero": false}, "axis": null},
     "y": {"field": "v", "type": "quantitative", "scale": {"domain": [0, 100], "nice": false}, "axis": null},
     "text": {"field": "t"}
    }}
  ]
 },
 {
  "width": 611, "height": 72,
  "resolve": {"axis": {"x": "independent", "y": "independent"}},
  "layer": [
   {"data": {"name": "hist"}, "mark": {"type": "rule", "color": "#c0c0c0", "strokeWidth": 1},
    "encoding": {
     "x": {"field": "i", "type": "quantitative", "scale": {"domain": [-0.375, 152.375], "nice": false, "zero": false},
       "axis": {"orient": "bottom", "values": [0, 16, 32, 48, 64, 80, 96, 112, 128, 144], "labelAlign": "left", "labelPadding": 2,
         "labelExpr": "['7 May 2019','7 May 21:00','8 May 13:00','9 May 05:00','9 May 21:00','10 May 13:00','13 May 05:00','13 May 21:00','14 May 13:00','15 May 05:00'][round(datum.value/16)]"}},
     "y": {"field": "v", "type": "quantitative", "scale": {"domain": [-0.186, 0.0555], "nice": false, "zero": false},
       "axis": {"orient": "right", "values": [-0.186, 0, 0.0555], "labelFlush": true,
         "labelExpr": "datum.value == 0 ? '0.00' : format(datum.value, datum.value > 0 ? '.4f' : '.3f')"}},
     "y2": {"datum": 0}
    }},
   {"data": {"name": "sig"}, "mark": {"type": "line", "color": "#ff0000", "strokeWidth": 1.3},
    "encoding": {
     "x": {"field": "i", "type": "quantitative", "scale": {"domain": [-0.375, 152.375], "nice": false, "zero": false}, "axis": null},
     "y": {"field": "v", "type": "quantitative", "scale": {"domain": [-0.186, 0.0555], "nice": false, "zero": false}, "axis": null}
    }},
   {"data": {"values": [{"i": 1, "v": 0.0253, "t": "MACD(12,26,9) 0.0247 0.0291"}]}, "mark": {"type": "text", "align": "left", "baseline": "middle"},
    "encoding": {
     "x": {"field": "i", "type": "quantitative", "scale": {"domain": [-0.375, 152.375], "nice": false, "zero": false}, "axis": null},
     "y": {"field": "v", "type": "quantitative", "scale": {"domain": [-0.186, 0.0555], "nice": false, "zero": false}, "axis": null},
     "text": {"field": "t"}
    }}
  ]
 }
]
}
